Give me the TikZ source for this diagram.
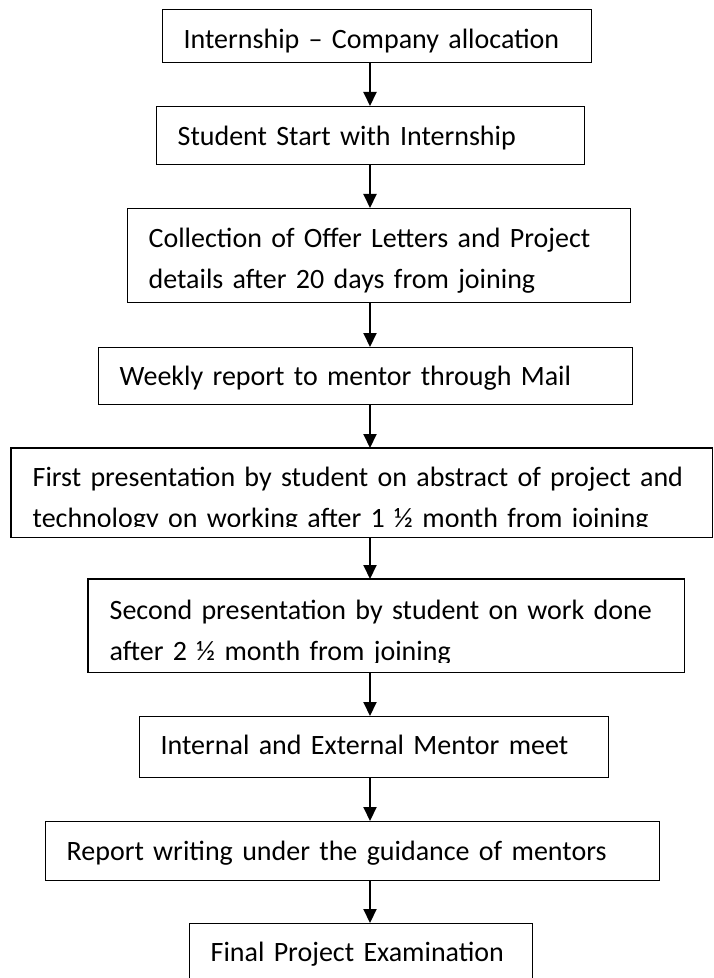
\documentclass[tikz,border=0pt]{standalone}
\usepackage{fontspec}
\setmainfont{Carlito}
\usetikzlibrary{arrows.meta}

\begin{document}
\begin{tikzpicture}[x=0.5pt,y=-0.5pt,
  stage/.style={draw,line width=0.65pt,anchor=north west,inner xsep=10.5pt,inner ysep=0pt,
    align=left,font=\fontsize{14}{20.5}\selectfont},
  flow/.style={-{Triangle[width=6.5pt,length=7pt]},line width=1pt}]

\useasboundingbox (0,0) rectangle (713,978);
\coordinate (ax) at (370,0);   % all arrows run down this line

\node[stage,text width=193.5pt,text height=19.5pt,text depth=7pt] (s1) at (162,9)
  {Internship – Company allocation};
\node[stage,text width=193pt,text height=19.5pt,text depth=9.5pt] (s2) at (156,106)
  {Student Start with Internship};
\node[stage,text width=230.5pt,text height=19.5pt,text depth=27.5pt] (s3) at (127,208)
  {Collection of Offer Letters and Project\\details after 20 days from joining};
\node[stage,text width=246pt,text height=19pt,text depth=9.5pt] (s4) at (98,347)
  {Weekly report to mentor through Mail};

% text boxes that are too small: the last line gets cut
\begin{scope}
  \clip (0,440) rectangle (713,526);
  \node[stage,draw=none,text width=329pt,text height=19pt,text depth=25pt] (s5) at (11,448)
    {First presentation by student on abstract of project and\\technology on working after 1 ½ month from joining};
\end{scope}
\draw[line width=0.65pt] (s5.north west) rectangle (s5.south east);

\begin{scope}
  \clip (80,570) rectangle (690,662);
  \node[stage,draw=none,text width=276.5pt,text height=20pt,text depth=26pt] (s6) at (88,579)
    {Second presentation by student on work done\\after 2 ½ month from joining};
\end{scope}
\draw[line width=0.65pt] (s6.north west) rectangle (s6.south east);

\node[stage,text width=213.5pt,text height=19pt,text depth=11.5pt] (s7) at (139,716)
  {Internal and External Mentor meet};
\node[stage,text width=286pt,text height=19.5pt,text depth=10pt] (s8) at (45,821)
  {Report writing under the guidance of mentors};
\node[stage,text width=150.5pt,text height=19pt,text depth=11pt] (s9) at (189,923)
  {Final Project Examination};

\foreach \a/\b in {s1/s2,s2/s3,s3/s4,s4/s5,s5/s6,s6/s7,s7/s8,s8/s9}
  \draw[flow] (\a.south -| ax) -- (\b.north -| ax);
\end{tikzpicture}
\end{document}
